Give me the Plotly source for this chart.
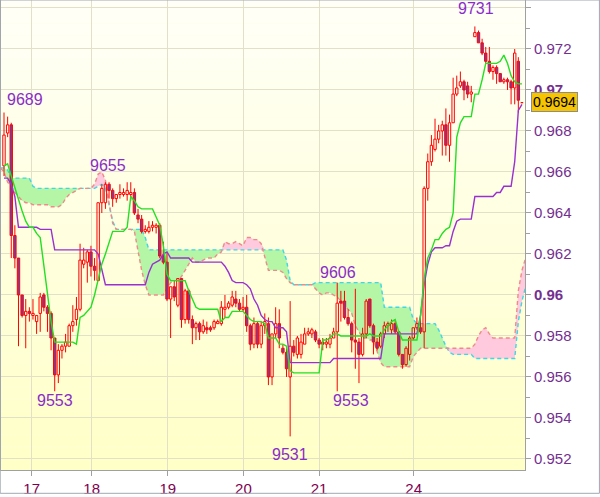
import numpy as np
import plotly.graph_objects as go

# hourly candles, index 0..143
opens = [
    0.9663, 0.9679, 0.9683, 0.9629, 0.9618, 0.9600, 0.9590, 0.9592, 0.9590, 0.9587,
    0.9591, 0.9600, 0.9594, 0.9591, 0.9579, 0.9561, 0.9573, 0.9575, 0.9575, 0.9585,
    0.9588, 0.9593, 0.9615, 0.9616, 0.9621, 0.9614, 0.9607, 0.9645, 0.9645, 0.9654,
    0.9651, 0.9647, 0.9649, 0.9649, 0.9649, 0.9649, 0.9650, 0.9639, 0.9637, 0.9631,
    0.9631, 0.9633, 0.9633, 0.9634, 0.9619, 0.9616, 0.9598, 0.9604, 0.9595, 0.9608,
    0.9588, 0.9602, 0.9588, 0.9584, 0.9586, 0.9582, 0.9584, 0.9584, 0.9584, 0.9586,
    0.9586, 0.9593, 0.9594, 0.9595, 0.9598, 0.9596, 0.9593, 0.9594, 0.9585, 0.9576,
    0.9586, 0.9576, 0.9585, 0.9586, 0.9560, 0.9581, 0.9586, 0.9574, 0.9572, 0.9560,
    0.9575, 0.9571, 0.9571, 0.9576, 0.9581, 0.9581, 0.9582, 0.9578, 0.9577, 0.9576,
    0.9576, 0.9579, 0.9582, 0.9597, 0.9597, 0.9589, 0.9586, 0.9578, 0.9577, 0.9571,
    0.9581, 0.9598, 0.9585, 0.9577, 0.9575, 0.9581, 0.9585, 0.9583, 0.9586, 0.9582,
    0.9571, 0.9566, 0.9571, 0.9579, 0.9584, 0.9584, 0.9582, 0.9652, 0.9665, 0.9671,
    0.9676, 0.9680, 0.9683, 0.9673, 0.9684, 0.9698, 0.9702, 0.9704, 0.9702, 0.9698,
    0.9726, 0.9728, 0.9723, 0.9718, 0.9714, 0.9709, 0.9711, 0.9708, 0.9704, 0.9705,
    0.9704, 0.9701, 0.9714, 0.96938,
]
highs = [
    0.9689, 0.9687, 0.9684, 0.9634, 0.9618, 0.9600, 0.9598, 0.9594, 0.9598, 0.9590,
    0.9601, 0.9601, 0.9595, 0.9592, 0.9579, 0.9576, 0.9576, 0.9581, 0.9586, 0.9595,
    0.9599, 0.9625, 0.9623, 0.9622, 0.9624, 0.9618, 0.9645, 0.9654, 0.9655, 0.9655,
    0.9652, 0.9649, 0.9654, 0.9652, 0.9655, 0.9655, 0.9652, 0.9642, 0.9639, 0.9634,
    0.9636, 0.9636, 0.9635, 0.9635, 0.9626, 0.9621, 0.9604, 0.9607, 0.9608, 0.9608,
    0.9603, 0.9603, 0.9590, 0.9587, 0.9587, 0.9588, 0.9587, 0.9585, 0.9588, 0.9588,
    0.9597, 0.9600, 0.9597, 0.9602, 0.9602, 0.9598, 0.9599, 0.9600, 0.9586, 0.9589,
    0.9587, 0.9587, 0.9591, 0.9589, 0.9581, 0.9594, 0.9593, 0.9576, 0.9574, 0.9597,
    0.9578, 0.9580, 0.9581, 0.9584, 0.9584, 0.9584, 0.9583, 0.9579, 0.9579, 0.9579,
    0.9581, 0.9584, 0.9606, 0.9602, 0.9602, 0.9593, 0.9587, 0.9603, 0.9579, 0.9584,
    0.9598, 0.9598, 0.9586, 0.9579, 0.9582, 0.9587, 0.9587, 0.9588, 0.9588, 0.9582,
    0.9571, 0.9575, 0.9580, 0.9584, 0.9589, 0.9589, 0.9653, 0.9669, 0.9678, 0.9686,
    0.9683, 0.9685, 0.9691, 0.9688, 0.9706, 0.9707, 0.9709, 0.9705, 0.9704, 0.9702,
    0.9731, 0.9729, 0.9725, 0.9721, 0.9721, 0.9712, 0.9712, 0.9708, 0.9706, 0.9706,
    0.9705, 0.9720, 0.9716, 0.9694,
]
lows = [
    0.9658, 0.9677, 0.9618, 0.9613, 0.9575, 0.9589, 0.9574, 0.9587, 0.9588, 0.9581,
    0.9582, 0.9592, 0.9582, 0.9573, 0.9553, 0.9557, 0.9569, 0.9572, 0.9575, 0.9582,
    0.9585, 0.9592, 0.9613, 0.9606, 0.9609, 0.9607, 0.9607, 0.9640, 0.9642, 0.9647,
    0.9643, 0.9645, 0.9647, 0.9648, 0.9646, 0.9646, 0.9639, 0.9635, 0.9630, 0.9630,
    0.9630, 0.9631, 0.9630, 0.9618, 0.9615, 0.9597, 0.9579, 0.9597, 0.9594, 0.9584,
    0.9586, 0.9586, 0.9576, 0.9578, 0.9578, 0.9581, 0.9581, 0.9582, 0.9583, 0.9586,
    0.9585, 0.9589, 0.9593, 0.9594, 0.9594, 0.9592, 0.9592, 0.9582, 0.9573, 0.9574,
    0.9574, 0.9574, 0.9581, 0.9556, 0.9556, 0.9579, 0.9574, 0.9571, 0.9560, 0.9531,
    0.9570, 0.9569, 0.9569, 0.9576, 0.9580, 0.9579, 0.9577, 0.9574, 0.9573, 0.9574,
    0.9574, 0.9579, 0.9553, 0.9587, 0.9588, 0.9585, 0.9572, 0.9564, 0.9557, 0.9570,
    0.9579, 0.9584, 0.9571, 0.9573, 0.9574, 0.9579, 0.9582, 0.9581, 0.9581, 0.9570,
    0.9564, 0.9565, 0.9568, 0.9578, 0.9583, 0.9581, 0.9574, 0.9646, 0.9663, 0.9670,
    0.9674, 0.9668, 0.9668, 0.9665, 0.9684, 0.9697, 0.9701, 0.9695, 0.9696, 0.9694,
    0.9726, 0.9723, 0.9717, 0.9713, 0.9708, 0.9705, 0.9703, 0.9704, 0.9703, 0.9700,
    0.9693, 0.9693, 0.9689, 0.96938,
]
closes = [
    0.9678, 0.9683, 0.9629, 0.9618, 0.9600, 0.9590, 0.9592, 0.9591, 0.9591, 0.9590,
    0.9599, 0.9594, 0.9591, 0.9579, 0.9561, 0.9573, 0.9575, 0.9577, 0.9585, 0.9587,
    0.9593, 0.9617, 0.9617, 0.9621, 0.9614, 0.9612, 0.9645, 0.9652, 0.9654, 0.9651,
    0.9647, 0.9649, 0.9650, 0.9650, 0.9651, 0.9650, 0.9640, 0.9637, 0.9631, 0.9632,
    0.9633, 0.9634, 0.9634, 0.9619, 0.9616, 0.9598, 0.9604, 0.9599, 0.9608, 0.9588,
    0.9602, 0.9588, 0.9584, 0.9586, 0.9582, 0.9585, 0.9583, 0.9583, 0.9587, 0.9587,
    0.9594, 0.9594, 0.9596, 0.9599, 0.9596, 0.9593, 0.9594, 0.9585, 0.9576, 0.9586,
    0.9576, 0.9585, 0.9587, 0.9560, 0.9581, 0.9586, 0.9579, 0.9572, 0.9564, 0.9575,
    0.9572, 0.9579, 0.9577, 0.9581, 0.9582, 0.9583, 0.9578, 0.9576, 0.9576, 0.9577,
    0.9579, 0.9582, 0.9596, 0.9596, 0.9589, 0.9586, 0.9578, 0.9577, 0.9571, 0.9581,
    0.9597, 0.9585, 0.9577, 0.9574, 0.9581, 0.9585, 0.9586, 0.9586, 0.9582, 0.9571,
    0.9566, 0.9574, 0.9579, 0.9584, 0.9586, 0.9582, 0.9652, 0.9665, 0.9673, 0.9676,
    0.9680, 0.9683, 0.9673, 0.9684, 0.9698, 0.9701, 0.9704, 0.9700, 0.9698, 0.9699,
    0.9728, 0.9723, 0.9718, 0.9714, 0.9709, 0.9711, 0.9708, 0.9704, 0.9705, 0.9704,
    0.9701, 0.9718, 0.9695, 0.9694,
]

# conversion line (green) and base line (purple), one value per candle
tenkan = [
    0.9663, 0.9664, 0.9658, 0.9652, 0.9646, 0.9641, 0.9636, 0.9633, 0.9633, 0.9630,
    0.9628, 0.9614, 0.9600, 0.9587, 0.9577, 0.9577, 0.9577, 0.9577, 0.9577, 0.9577,
    0.9576, 0.9589, 0.9590, 0.9592, 0.9594, 0.9600, 0.9608, 0.9615, 0.9620, 0.9625,
    0.9631, 0.9631, 0.9631, 0.9631, 0.9633, 0.9648, 0.9646, 0.9643, 0.9642, 0.9642,
    0.9642, 0.9642, 0.9638, 0.9634, 0.9624, 0.9610, 0.9607, 0.9607, 0.9607, 0.9607,
    0.9607, 0.9602, 0.9598, 0.9594, 0.9593, 0.9593, 0.9593, 0.9593, 0.9593, 0.9593,
    0.9587, 0.9589, 0.9589, 0.9592, 0.9592, 0.9592, 0.9592, 0.9590, 0.9588, 0.9587,
    0.9587, 0.9587, 0.9586, 0.9579, 0.9579, 0.9579, 0.9576, 0.9576, 0.9575, 0.9563,
    0.9562, 0.9562, 0.9562, 0.9562, 0.9562, 0.9562, 0.9562, 0.9562, 0.9578, 0.9578,
    0.9579, 0.9581, 0.9581, 0.9580, 0.9580, 0.9580, 0.9580, 0.9580, 0.9580, 0.9580,
    0.9580, 0.9581, 0.9580, 0.9580, 0.9580, 0.9583, 0.9585, 0.9587, 0.9588, 0.9582,
    0.9578, 0.9578, 0.9578, 0.9578, 0.9578, 0.9590, 0.9608, 0.9618, 0.9622, 0.9627,
    0.9627, 0.9630, 0.9632, 0.9633, 0.9640, 0.9677, 0.9684, 0.9687, 0.9687, 0.9687,
    0.9698, 0.9698, 0.9705, 0.9713, 0.9713, 0.9713, 0.9713, 0.9714, 0.9717, 0.9713,
    0.9707, 0.9704, 0.9703, 0.9703,
]
kijun = [
    0.9657, 0.9657, 0.9654, 0.9648, 0.9633, 0.9633, 0.9633, 0.9633, 0.9633, 0.9633,
    0.9632, 0.9632, 0.9632, 0.9632, 0.9622, 0.9622, 0.9622, 0.9622, 0.9622, 0.9622,
    0.9622, 0.9622, 0.9622, 0.9622, 0.9622, 0.9622, 0.9620, 0.9612, 0.9605, 0.9605,
    0.9605, 0.9605, 0.9605, 0.9605, 0.9605, 0.9605, 0.9605, 0.9605, 0.9605, 0.9605,
    0.9611, 0.9615, 0.9616, 0.9617, 0.9620, 0.9621, 0.9618, 0.9618, 0.9618, 0.9618,
    0.9618, 0.9618, 0.9616, 0.9616, 0.9616, 0.9616, 0.9616, 0.9616, 0.9616, 0.9616,
    0.9616, 0.9614, 0.9611, 0.9607, 0.9606, 0.9606, 0.9606, 0.9605, 0.9603, 0.9598,
    0.9595, 0.9590, 0.9588, 0.9587, 0.9587, 0.9584, 0.9584, 0.9584, 0.9582, 0.9567,
    0.9567, 0.9567, 0.9567, 0.9567, 0.9567, 0.9567, 0.9567, 0.9567, 0.9567, 0.9567,
    0.9567, 0.9569, 0.9569, 0.9569, 0.9569, 0.9569, 0.9569, 0.9569, 0.9569, 0.9569,
    0.9569, 0.9569, 0.9569, 0.9569, 0.9569, 0.9581, 0.9581, 0.9581, 0.9581, 0.9581,
    0.9581, 0.9581, 0.9581, 0.9581, 0.9581, 0.9590, 0.9605, 0.9615, 0.9621, 0.9623,
    0.9623, 0.9623, 0.9624, 0.9624, 0.9631, 0.9636, 0.9637, 0.9637, 0.9637, 0.9637,
    0.9648, 0.9648, 0.9648, 0.9648, 0.9648, 0.9648, 0.9650, 0.9650, 0.9653, 0.9653,
    0.9653, 0.9665, 0.9690, 0.9693,
]

# cloud spans, from index -1 to 144
cloud_first = -1
span_a = [
    0.9662,
    0.9662, 0.9661, 0.9657, 0.9657, 0.9657, 0.9657, 0.9657, 0.9657, 0.9653, 0.9652,
    0.9652, 0.9652, 0.9652, 0.9652, 0.9652, 0.9652, 0.9652, 0.9652, 0.9652, 0.9652,
    0.9652, 0.9652, 0.9652, 0.9652, 0.9652, 0.9652, 0.9653, 0.9654, 0.9652, 0.9644,
    0.9636, 0.9632, 0.9632, 0.9632, 0.9632, 0.9632, 0.9632, 0.9632, 0.9632, 0.9628,
    0.9622, 0.9622, 0.9622, 0.9622, 0.9622, 0.9622, 0.9622, 0.9622, 0.9622, 0.9622,
    0.9622, 0.9622, 0.9622, 0.9622, 0.9622, 0.9622, 0.9622, 0.9622, 0.9622, 0.9622,
    0.9622, 0.9622, 0.9622, 0.9622, 0.9622, 0.9622, 0.9622, 0.9622, 0.9622, 0.9622,
    0.9622, 0.9622, 0.9622, 0.9622, 0.9622, 0.9622, 0.9622, 0.9622, 0.9617, 0.9607,
    0.9605, 0.9605, 0.9605, 0.9605, 0.9605, 0.9605, 0.9606, 0.9606, 0.9606, 0.9606,
    0.9606, 0.9606, 0.9606, 0.9606, 0.9606, 0.9606, 0.9606, 0.9606, 0.9606, 0.9606,
    0.9606, 0.9606, 0.9606, 0.9606, 0.9606, 0.9594, 0.9594, 0.9594, 0.9594, 0.9594,
    0.9594, 0.9594, 0.9594, 0.9588, 0.9586, 0.9586, 0.9586, 0.9586, 0.9586, 0.9586,
    0.9583, 0.9579, 0.9575, 0.9572, 0.9571, 0.9571, 0.9571, 0.9571, 0.9571, 0.9571,
    0.9569, 0.9569, 0.9569, 0.9569, 0.9569, 0.9569, 0.9569, 0.9569, 0.9569, 0.9569,
    0.9569, 0.9569, 0.9587, 0.9597, 0.9604,
]
span_b = [
    0.9662,
    0.9660, 0.9655, 0.9653, 0.9650, 0.9648, 0.9646, 0.9645, 0.9645, 0.9644, 0.9644,
    0.9644, 0.9644, 0.9644, 0.9643, 0.9643, 0.9643, 0.9644, 0.9647, 0.9649, 0.9650,
    0.9651, 0.9652, 0.9652, 0.9652, 0.9652, 0.9654, 0.9659, 0.9660, 0.9656, 0.9645,
    0.9635, 0.9632, 0.9632, 0.9632, 0.9632, 0.9632, 0.9631, 0.9622, 0.9612, 0.9605,
    0.9600, 0.9600, 0.9600, 0.9600, 0.9600, 0.9603, 0.9606, 0.9607, 0.9607, 0.9609,
    0.9612, 0.9615, 0.9618, 0.9616, 0.9616, 0.9617, 0.9618, 0.9618, 0.9618, 0.9620,
    0.9621, 0.9626, 0.9625, 0.9625, 0.9626, 0.9625, 0.9624, 0.9628, 0.9628, 0.9627,
    0.9627, 0.9625, 0.9618, 0.9612, 0.9612, 0.9612, 0.9612, 0.9611, 0.9608, 0.9606,
    0.9605, 0.9605, 0.9605, 0.9605, 0.9605, 0.9605, 0.9603, 0.9601, 0.9600, 0.9601,
    0.9601, 0.9600, 0.9599, 0.9597, 0.9595, 0.9593, 0.9591, 0.9585, 0.9582, 0.9579,
    0.9579, 0.9578, 0.9578, 0.9573, 0.9567, 0.9565, 0.9565, 0.9565, 0.9565, 0.9565,
    0.9565, 0.9565, 0.9565, 0.9570, 0.9572, 0.9574, 0.9574, 0.9574, 0.9574, 0.9574,
    0.9574, 0.9574, 0.9574, 0.9574, 0.9574, 0.9574, 0.9574, 0.9574, 0.9574, 0.9574,
    0.9576, 0.9580, 0.9583, 0.9584, 0.9581, 0.9579, 0.9579, 0.9579, 0.9579, 0.9579,
    0.9579, 0.9579, 0.9602, 0.9612, 0.9618,
]

day_ticks = [7.65, 24.2, 45.2, 66.1, 87.0, 113.1]
day_labels = ["17", "18", "19", "20", "21", "24"]

price_ticks = [0.952, 0.954, 0.956, 0.958, 0.960, 0.962, 0.964, 0.966, 0.968, 0.970, 0.972, 0.974]
price_labels = ["0.952", "0.954", "0.956", "0.958", "<b>0.96</b>", "0.962", "0.964", "0.966",
                "0.968", "<b>0.97</b>", "0.972", "0.974"]
minor_ticks = [0.953, 0.955, 0.957, 0.959, 0.961, 0.963, 0.965, 0.967, 0.969, 0.971, 0.973]

# extreme labels: text, candle index, price level
extreme_text = ["9689", "9655", "9553", "9531", "9606", "9553", "9731"]
extreme_x = [5.8, 28.7, 14.1, 79.0, 92.2, 95.8, 130.3]
extreme_y = [0.96954, 0.96634, 0.95485, 0.95223, 0.96110, 0.95485, 0.97396]

last_price = 0.9694

FONT = "Liberation Sans, Arial, sans-serif"

o = np.array(opens)
h = np.array(highs)
l = np.array(lows)
c = np.array(closes)
idx = np.arange(len(o))
body_lo = np.minimum(o, c)
body_hi = np.maximum(o, c)
up = c >= o

fig = go.Figure()

# cloud fills
cx = np.arange(cloud_first, cloud_first + len(span_a))
a = np.array(span_a)
b = np.array(span_b)
top = np.maximum(a, b)
fig.add_trace(go.Scatter(x=cx, y=b, mode="lines", line=dict(width=0), hoverinfo="skip"))
fig.add_trace(go.Scatter(x=cx, y=top, mode="lines", line=dict(width=0), fill="tonexty",
                         fillcolor="#b4f5a6", hoverinfo="skip"))
fig.add_trace(go.Scatter(x=cx, y=a, mode="lines", line=dict(width=0), hoverinfo="skip"))
fig.add_trace(go.Scatter(x=cx, y=top, mode="lines", line=dict(width=0), fill="tonexty",
                         fillcolor="#ffcade", hoverinfo="skip"))
fig.add_trace(go.Scatter(x=cx, y=a, mode="lines", line=dict(color="#3ad8e8", width=1.4, dash="4px,3px")))
fig.add_trace(go.Scatter(x=cx, y=b, mode="lines", line=dict(color="#f08a8a", width=1.4, dash="4px,3px")))

# wicks
wx, wy = [], []
for i in idx:
    wx += [i, i, None, i, i, None]
    wy += [l[i], body_lo[i], None, body_hi[i], h[i], None]
fig.add_trace(go.Scatter(x=wx, y=wy, mode="lines", line=dict(color="#ff0000", width=1)))

# bodies
hw = 0.33


def body_path(mask):
    px, py = [], []
    for i in idx[mask]:
        px += [i - hw, i + hw, i + hw, i - hw, i - hw, None]
        py += [body_lo[i], body_lo[i], body_hi[i], body_hi[i], body_lo[i], None]
    return px, py


bx, by = body_path(~up)
fig.add_trace(go.Scatter(x=bx, y=by, mode="lines", fill="toself", fillcolor="#6e3fa6",
                         line=dict(color="#ff0000", width=1)))
bx, by = body_path(up)
fig.add_trace(go.Scatter(x=bx, y=by, mode="lines", fill="toself", fillcolor="rgba(0,0,0,0)",
                         line=dict(color="#ff0000", width=1)))

# indicator lines
fig.add_trace(go.Scatter(x=idx, y=kijun, mode="lines", line=dict(color="#9a30d0", width=1.4)))
fig.add_trace(go.Scatter(x=idx, y=tenkan, mode="lines", line=dict(color="#22e022", width=1.4)))

# gradient background
shapes = []
bands = 40
for j in range(bands):
    t = j / (bands - 1)
    g = int(200 + (248 - 200) * t)
    shapes.append(dict(type="rect", xref="paper", yref="paper", x0=0, x1=1,
                       y0=j / bands, y1=(j + 1) / bands, layer="below", line=dict(width=0),
                       fillcolor=f"rgb(255,255,{g})"))
# outer frame
shapes.append(dict(type="rect", xref="paper", yref="paper", x0=-0.0015, x1=1.1420,
                   y0=-0.0496, y1=1.0, line=dict(color="#a0a8b4", width=1)))

annotations = []
for txt, ex, ey in zip(extreme_text, extreme_x, extreme_y):
    annotations.append(dict(x=ex, y=ey, text=txt, showarrow=False,
                            font=dict(family=FONT, size=16, color="#8a2dc8")))
annotations.append(dict(x=1, xref="paper", y=last_price, yref="y", xanchor="left", xshift=6,
                        text="0.9694", showarrow=False, bgcolor="#f6c400", bordercolor="#8c8c8c",
                        borderwidth=1, borderpad=1, font=dict(family=FONT, size=14, color="#000000")))

fig.update_layout(
    width=600, height=497,
    margin=dict(l=1, r=75, t=0, b=24),
    paper_bgcolor="#ffffff",
    plot_bgcolor="#ffffe0",
    showlegend=False,
    shapes=shapes,
    annotations=annotations,
    font=dict(family=FONT),
    xaxis=dict(
        range=[-0.83, 143.84], tickvals=day_ticks, ticktext=day_labels,
        ticks="outside", ticklen=5, tickcolor="#a0a0a0",
        showgrid=True, gridcolor="#e2e0c6", gridwidth=1, zeroline=False,
        showline=True, linecolor="#a0a0a0", linewidth=1,
        tickfont=dict(family=FONT, size=15, color="#800050"),
    ),
    yaxis=dict(
        side="right", range=[0.95146, 0.97439], tickvals=price_ticks, ticktext=price_labels,
        ticks="outside", ticklen=5, tickcolor="#a0a0a0",
        minor=dict(tickvals=minor_ticks, ticks="outside", ticklen=4, tickcolor="#a0a0a0", showgrid=False),
        showgrid=True, gridcolor="#e2e0c6", gridwidth=1, zeroline=False,
        showline=True, linecolor="#a0a0a0", linewidth=1, mirror=True,
        tickfont=dict(family=FONT, size=15, color="#74308f"),
    ),
)

fig.write_html("out.html", config={"displayModeBar": False},
               post_script="document.body.style.margin='0';")
